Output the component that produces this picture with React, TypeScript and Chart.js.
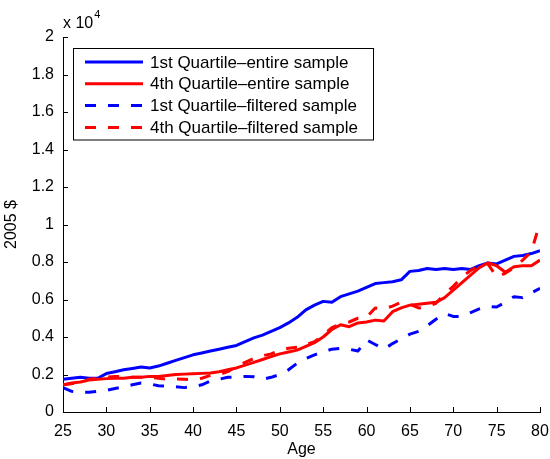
import React, { useEffect, useRef } from "react";
import { Chart, registerables } from "chart.js";

Chart.register(...registerables);

// Age in years (x axis)
const ages = [
  25, 26, 27, 28, 29, 30, 31, 32, 33, 34, 35, 36, 37, 38, 39, 40, 41, 42, 43,
  44, 45, 46, 47, 48, 49, 50, 51, 52, 53, 54, 55, 56, 57, 58, 59, 60, 61, 62,
  63, 64, 65, 66, 67, 68, 69, 70, 71, 72, 73, 74, 75, 76, 77, 78, 79, 80,
];

// Values in 2005 dollars
const q1Entire = [
  1750, 1800, 1850, 1800, 1800, 2050, 2150, 2250, 2320, 2400, 2350, 2450, 2600,
  2750, 2900, 3050, 3150, 3250, 3350, 3450, 3550, 3750, 3950, 4100, 4300, 4500,
  4750, 5050, 5450, 5700, 5900, 5850, 6150, 6300, 6450, 6650, 6850, 6900, 6950,
  7050, 7500, 7550, 7650, 7600, 7650, 7600, 7650, 7600, 7800, 7950, 7900, 8100,
  8300, 8350, 8450, 8600,
];

const q4Entire = [
  1450, 1550, 1600, 1700, 1750, 1780, 1800, 1800, 1850, 1850, 1900, 1900, 1950,
  2000, 2020, 2040, 2060, 2080, 2150, 2250, 2350, 2500, 2650, 2800, 2950, 3100,
  3200, 3300, 3500, 3700, 4000, 4400, 4650, 4550, 4750, 4800, 4900, 4850, 5350,
  5550, 5700, 5750, 5800, 5850, 6100, 6500, 6900, 7300, 7700, 7950, 7800, 7450,
  7750, 7800, 7800, 8100,
];

const q1Filtered = [
  1300, 1100, 1050, 1050, 1100, 1150, 1250, 1350, 1450, 1550, 1500, 1400, 1370,
  1350, 1300, 1350, 1450, 1650, 1750, 1850, 1870, 1900, 1880, 1750, 1850, 2000,
  2250, 2600, 2850, 3050, 3200, 3350, 3400, 3350, 3250, 3850, 3600, 3350, 3650,
  3900, 4150, 4300, 4600, 4950, 5250, 5100, 5100, 5300, 5500, 5630, 5600, 5850,
  6150, 6100, 6350, 6600,
];

const q4Filtered = [
  1450, 1500, 1600, 1750, 1800, 1850, 1900, 1900, 1850, 1850, 1850, 1800, 1750,
  1760, 1750, 1720, 1800, 1950, 2000, 2150, 2450, 2650, 2850, 3000, 3100, 3300,
  3400, 3450, 3600, 3750, 4100, 4500, 4700, 4800, 5000, 5050, 5550, 5500, 5650,
  5850, 5750, 5550, 5600, 5800, 6300, 6700, 7200, 7550, 7800, 7900, 7200, 7400,
  7700, 8100, 8550, 10100,
];

const seriesLabels = [
  "1st Quartile\u2013entire sample",
  "4th Quartile\u2013entire sample",
  "1st Quartile\u2013filtered sample",
  "4th Quartile\u2013filtered sample",
];

const xTicks = [25, 30, 35, 40, 45, 50, 55, 60, 65, 70, 75, 80];
const yTicks = [0, 2000, 4000, 6000, 8000, 10000, 12000, 14000, 16000, 18000, 20000];

const BLUE = "#0000ff";
const RED = "#ff0000";
const DASH = [11, 12];
const FONT = "'Liberation Sans', Arial, Helvetica, sans-serif";

const toPoints = (vals: number[]) => ages.map((a, i) => ({ x: a, y: vals[i] }));

// Inward tick marks, the "x 10^4" multiplier and the boxed legend
const decorations = {
  id: "decorations",
  afterDraw(chart: any) {
    const { ctx, chartArea, scales } = chart;
    const xs = scales.x;
    const ys = scales.y;
    ctx.save();
    ctx.strokeStyle = "#000";
    ctx.lineWidth = 1;
    ctx.beginPath();
    for (const v of yTicks) {
      const py = Math.round(ys.getPixelForValue(v)) + 0.5;
      ctx.moveTo(chartArea.left, py);
      ctx.lineTo(chartArea.left + 5, py);
    }
    for (const v of xTicks) {
      const px = Math.round(xs.getPixelForValue(v)) + 0.5;
      ctx.moveTo(px, chartArea.bottom);
      ctx.lineTo(px, chartArea.bottom - 5);
    }
    ctx.stroke();

    // axis multiplier
    ctx.fillStyle = "#000";
    ctx.textBaseline = "alphabetic";
    ctx.textAlign = "left";
    ctx.font = `16px ${FONT}`;
    ctx.fillText("x 10", chartArea.left, 28);
    const w = ctx.measureText("x 10").width;
    ctx.font = `11px ${FONT}`;
    ctx.fillText("4", chartArea.left + w + 1, 18);

    // legend
    const bx = 73.5;
    const by = 48.5;
    const bw = 300;
    const bh = 91.5;
    ctx.fillStyle = "#fff";
    ctx.fillRect(bx, by, bw, bh);
    ctx.strokeStyle = "#000";
    ctx.lineWidth = 1;
    ctx.strokeRect(bx, by, bw, bh);
    const colors = [BLUE, RED, BLUE, RED];
    const dashes = [[], [], DASH, DASH];
    ctx.font = `17px ${FONT}`;
    ctx.textBaseline = "middle";
    seriesLabels.forEach((label, i) => {
      const ry = 62 + i * 21.8;
      ctx.strokeStyle = colors[i];
      ctx.lineWidth = 3;
      ctx.setLineDash(dashes[i]);
      ctx.beginPath();
      ctx.moveTo(85, ry);
      ctx.lineTo(143, ry);
      ctx.stroke();
      ctx.setLineDash([]);
      ctx.fillStyle = "#000";
      ctx.fillText(label, 150, ry + 1);
    });
    ctx.restore();
  },
};

export default function App() {
  const canvasRef = useRef<HTMLCanvasElement | null>(null);

  useEffect(() => {
    if (!canvasRef.current) return;
    const common = {
      borderWidth: 3,
      pointRadius: 0,
      tension: 0,
      fill: false,
      borderCapStyle: "butt" as const,
      borderJoinStyle: "round" as const,
    };
    const chart = new Chart(canvasRef.current, {
      type: "line",
      data: {
        datasets: [
          { ...common, label: seriesLabels[0], data: toPoints(q1Entire), borderColor: BLUE, order: 3 },
          { ...common, label: seriesLabels[1], data: toPoints(q4Entire), borderColor: RED, order: 2 },
          { ...common, label: seriesLabels[2], data: toPoints(q1Filtered), borderColor: BLUE, borderDash: DASH, order: 1 },
          { ...common, label: seriesLabels[3], data: toPoints(q4Filtered), borderColor: RED, borderDash: DASH, order: 0 },
        ],
      },
      options: {
        responsive: false,
        animation: false,
        devicePixelRatio: 1,
        layout: { padding: { top: 37, right: 10, left: 0, bottom: 0 } },
        plugins: { legend: { display: false }, tooltip: { enabled: false } },
        scales: {
          x: {
            type: "linear",
            min: 25,
            max: 80,
            grid: { display: false, drawTicks: false },
            border: { display: true, color: "#000", width: 1 },
            ticks: {
              stepSize: 5,
              autoSkip: false,
              maxRotation: 0,
              padding: 10,
              color: "#000",
              font: { family: FONT, size: 16 },
            },
            title: {
              display: true,
              text: "Age",
              color: "#000",
              font: { family: FONT, size: 16 },
              padding: { top: 0, bottom: 0 },
            },
            afterFit(s: any) {
              s.height = 47;
              s.paddingLeft = 0;
              s.paddingRight = 0;
            },
          },
          y: {
            type: "linear",
            min: 0,
            max: 20000,
            grid: { display: false, drawTicks: false },
            border: { display: true, color: "#000", width: 1 },
            ticks: {
              stepSize: 2000,
              padding: 9,
              color: "#000",
              font: { family: FONT, size: 16 },
              callback: (v: any) => String(Number((Number(v) / 10000).toFixed(1))),
            },
            title: {
              display: true,
              text: "2005 $",
              color: "#000",
              font: { family: FONT, size: 16 },
              padding: { top: 2, bottom: 0 },
            },
            afterFit(s: any) {
              s.width = 63;
              s.paddingTop = 0;
              s.paddingBottom = 0;
            },
          },
        },
      },
      plugins: [decorations],
    });
    return () => chart.destroy();
  }, []);

  return (
    <div style={{ position: "absolute", left: 0, top: 0, width: 550, height: 459, background: "#fff" }}>
      <canvas ref={canvasRef} width={550} height={459} style={{ display: "block" }} />
    </div>
  );
}
